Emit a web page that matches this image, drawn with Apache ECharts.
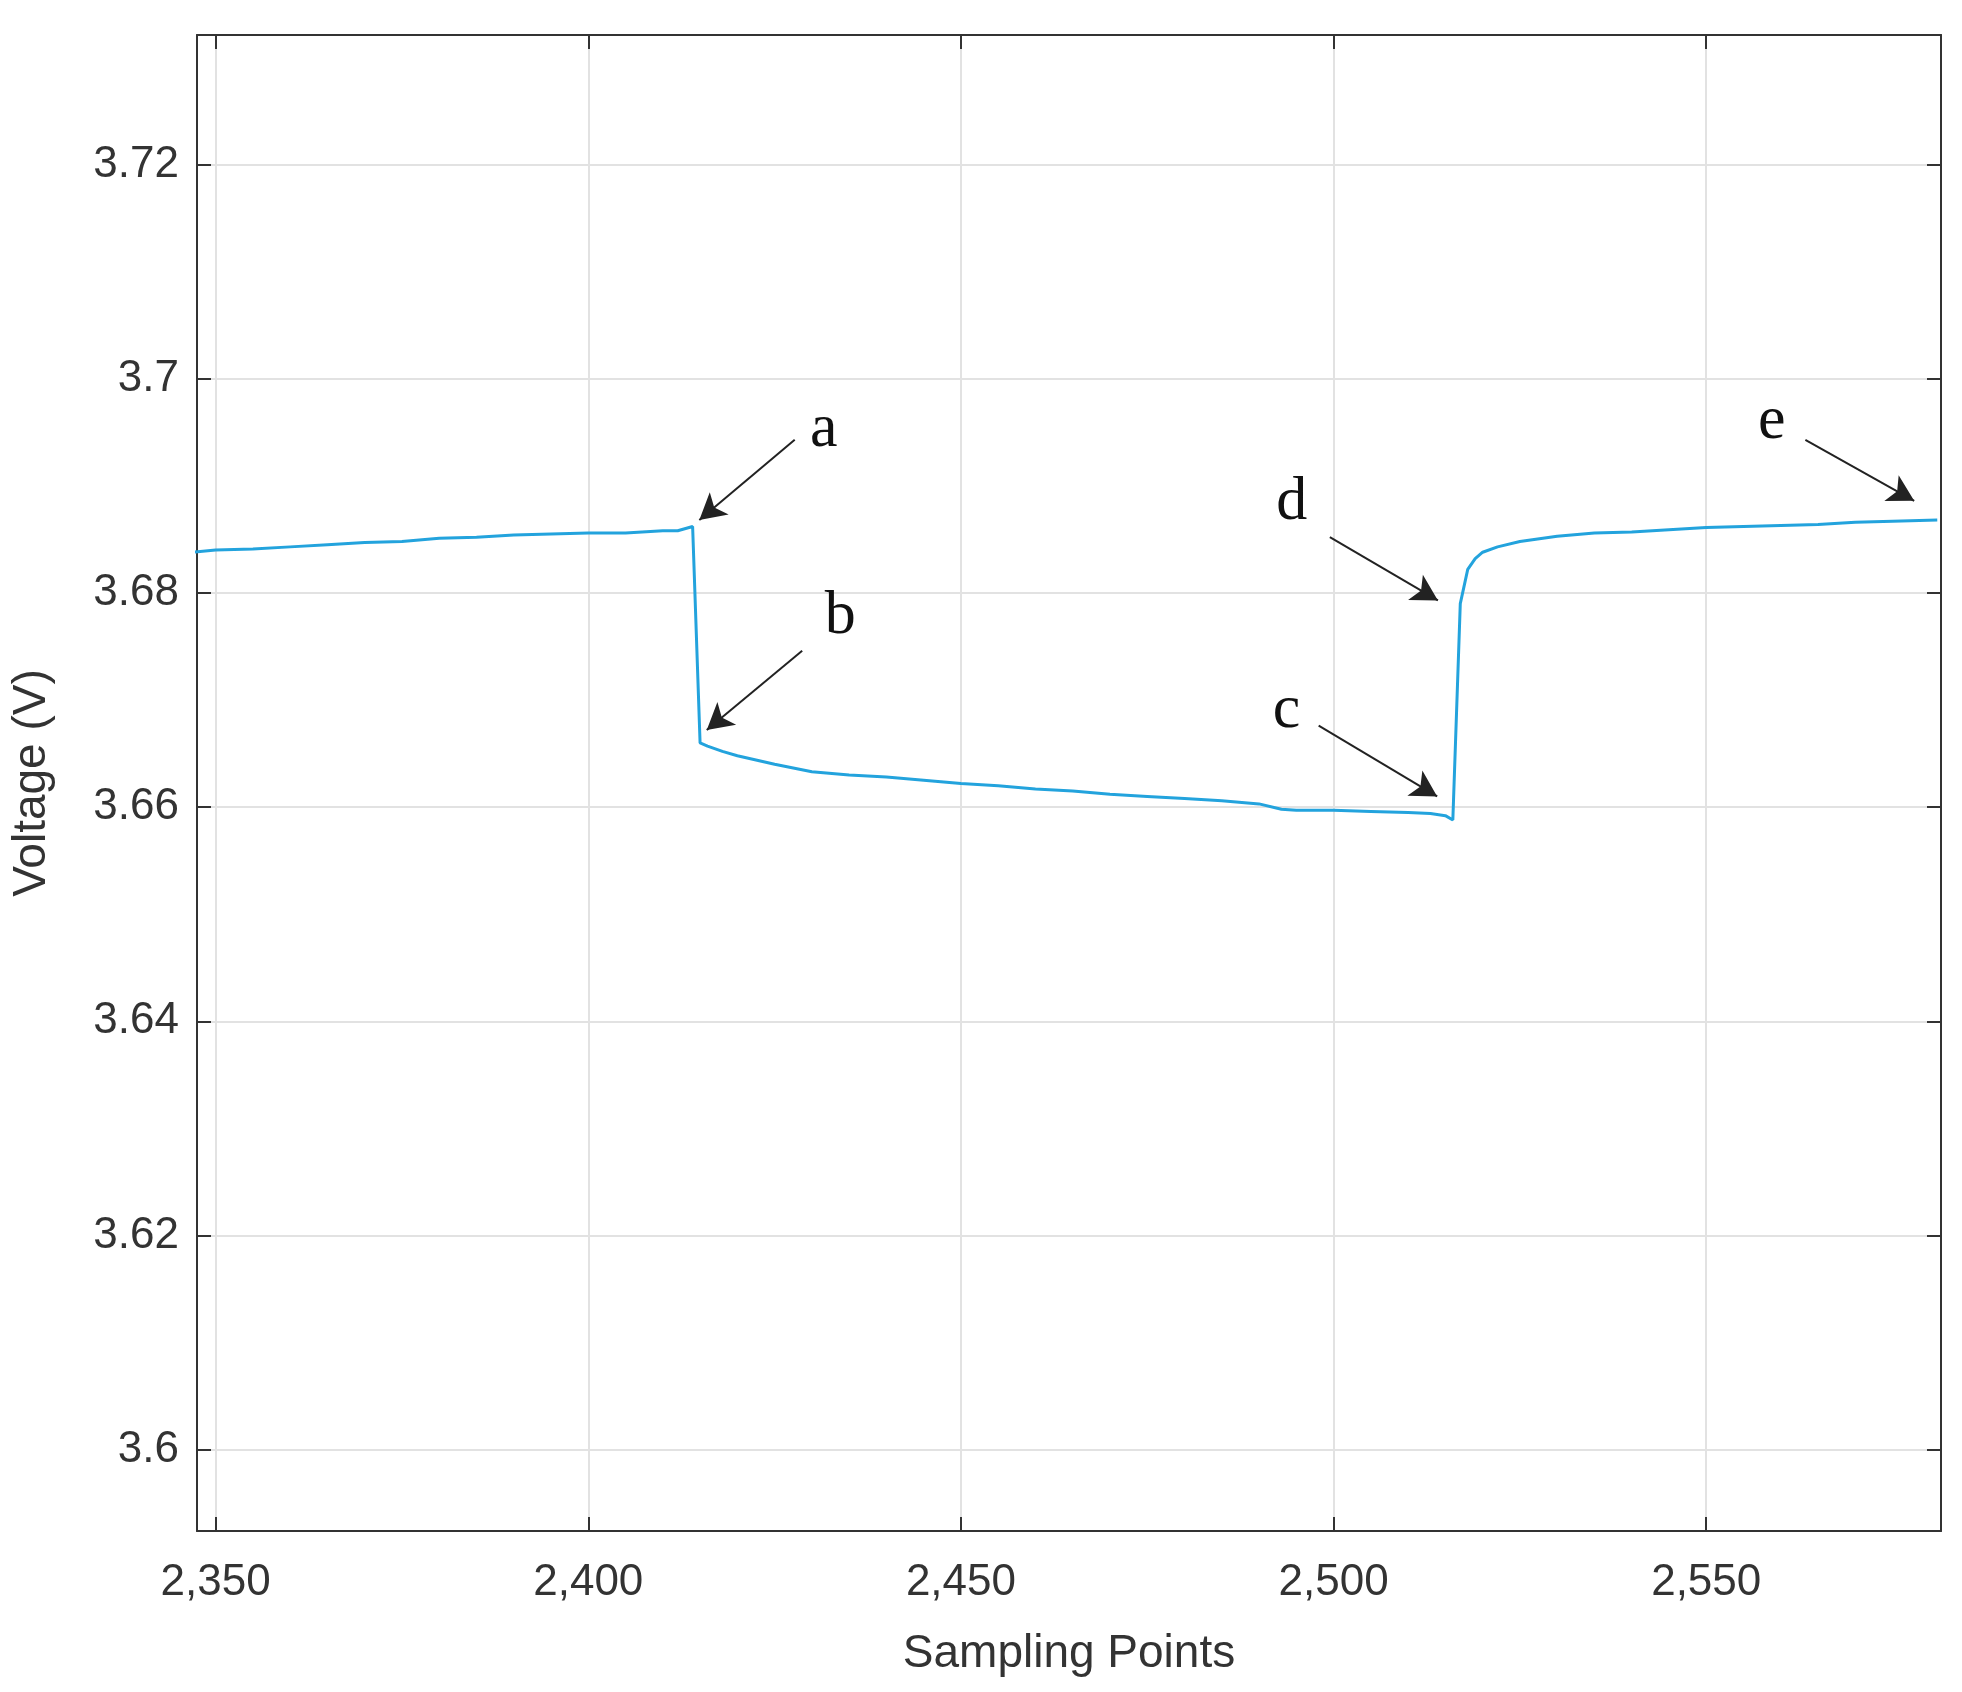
<!DOCTYPE html>
<html>
<head>
<meta charset="utf-8">
<script src="https://cdn.jsdelivr.net/npm/echarts@6/dist/echarts.min.js"></script>
<style>html,body{margin:0;background:#fff}</style>
</head>
<body>
<div id="chart" style="width:1962px;height:1692px;"></div>
<script>
    // sampling points and voltage
    var samples = [2347, 2350, 2355, 2360, 2365, 2370, 2375, 2380, 2385, 2390, 2395, 2400, 2405, 2410, 2412, 2414,
        2415, 2416, 2418, 2420, 2425, 2430, 2435, 2440, 2445, 2450, 2455, 2460, 2465, 2470, 2475, 2480, 2485, 2490,
        2493, 2495, 2500, 2505, 2510, 2513, 2515, 2516, 2517, 2518, 2519, 2520, 2522, 2525, 2530, 2535, 2540, 2545,
        2550, 2555, 2560, 2565, 2570, 2575, 2581];
    var voltage = [3.6838, 3.6840, 3.6841, 3.6843, 3.6845, 3.6847, 3.6848, 3.6851, 3.6852, 3.6854, 3.6855, 3.6856, 3.6856, 3.6858, 3.6858, 3.6862,
        3.6660, 3.6657, 3.6652, 3.6648, 3.6640, 3.6633, 3.6630, 3.6628, 3.6625, 3.6622, 3.6620, 3.6617, 3.6615, 3.6612, 3.6610, 3.6608, 3.6606, 3.6603,
        3.6598, 3.6597, 3.6597, 3.6596, 3.6595, 3.6594, 3.6592, 3.6588, 3.6790, 3.6822, 3.6832, 3.6838, 3.6843, 3.6848, 3.6853, 3.6856, 3.6857, 3.6859,
        3.6861, 3.6862, 3.6863, 3.6864, 3.6866, 3.6867, 3.6868];
    var xTicks = [2350, 2400, 2450, 2500, 2550];
    var yTicks = [3.6, 3.62, 3.64, 3.66, 3.68, 3.7, 3.72];

    // annotation letters and their arrows (start -> head), in data units
    var noteText = ['a', 'b', 'c', 'd', 'e'];
    var noteLabel = [[2431.6, 3.6952], [2433.8, 3.6778], [2493.7, 3.6690], [2494.4, 3.6884], [2558.8, 3.6960]];
    var arrowFrom = [[2427.7, 3.6943], [2428.7, 3.6746], [2498.0, 3.6676], [2499.5, 3.6852], [2563.3, 3.6943]];
    var arrowTo = [[2414.9, 3.6868], [2415.9, 3.6672], [2513.9, 3.6610], [2514.0, 3.6793], [2577.9, 3.6886]];

    var xMin = 2347.5, xMax = 2581.5, yMin = 3.5924, yMax = 3.7321;
    var font = 'Liberation Sans';

    var chart = echarts.init(document.getElementById('chart'));

    var lineData = samples.map(function (s, i) { return [s, voltage[i]]; });

    var arrows = arrowFrom.map(function (p, i) {
        return [{coord: p, symbol: 'none'}, {coord: arrowTo[i], symbol: 'arrow'}];
    });
    var labels = noteLabel.map(function (p, i) {
        return {coord: p, value: noteText[i]};
    });

    function xAx(pos, show) {
        return {
            type: 'value', position: pos, min: xMin, max: xMax,
            name: show ? 'Sampling Points' : '', nameLocation: 'middle', nameGap: 100,
            nameTextStyle: {fontFamily: font, fontSize: 46, color: '#333'},
            axisLine: {show: true, onZero: false, lineStyle: {color: '#333', width: 2}},
            axisTick: {show: true, inside: true, length: 14, customValues: xTicks, lineStyle: {color: '#333', width: 2}},
            axisLabel: {show: show, customValues: xTicks, margin: 30, fontFamily: font, fontSize: 44, color: '#333'},
            splitLine: {show: show, lineStyle: {color: '#e2e2e2', width: 2}}
        };
    }
    function yAx(pos, show) {
        return {
            type: 'value', position: pos, min: yMin, max: yMax,
            name: show ? 'Voltage (V)' : '', nameLocation: 'middle', nameGap: 142,
            nameTextStyle: {fontFamily: font, fontSize: 46, color: '#333'},
            axisLine: {show: true, onZero: false, lineStyle: {color: '#333', width: 2}},
            axisTick: {show: true, inside: true, length: 14, customValues: yTicks, lineStyle: {color: '#333', width: 2}},
            axisLabel: {show: show, customValues: yTicks, margin: 18, fontFamily: font, fontSize: 44, color: '#333',
                formatter: function (v) { return String(+v.toFixed(2)); }},
            splitLine: {show: show, lineStyle: {color: '#e2e2e2', width: 2}}
        };
    }

    var option = {
        animation: false,
        backgroundColor: '#fff',
        grid: {left: 197, right: 21, top: 35, bottom: 161},
        xAxis: [xAx('bottom', true), xAx('top', false)],
        yAxis: [yAx('left', true), yAx('right', false)],
        series: [{
            type: 'line',
            data: lineData,
            symbol: 'none',
            lineStyle: {color: '#23a3dd', width: 3},
            markLine: {
                silent: true,
                symbolSize: [22, 26],
                lineStyle: {color: '#222', width: 2, type: 'solid'},
                label: {show: false},
                data: arrows
            },
            markPoint: {
                silent: true,
                symbol: 'circle',
                symbolSize: 1,
                itemStyle: {color: 'rgba(0,0,0,0)'},
                label: {show: true, position: 'inside', formatter: '{c}', fontFamily: 'Liberation Serif', fontSize: 62, color: '#111'},
                data: labels
            }
        }]
    };

    chart.setOption(option);
    window.onresize = chart.resize;
</script>
</body>
</html>
